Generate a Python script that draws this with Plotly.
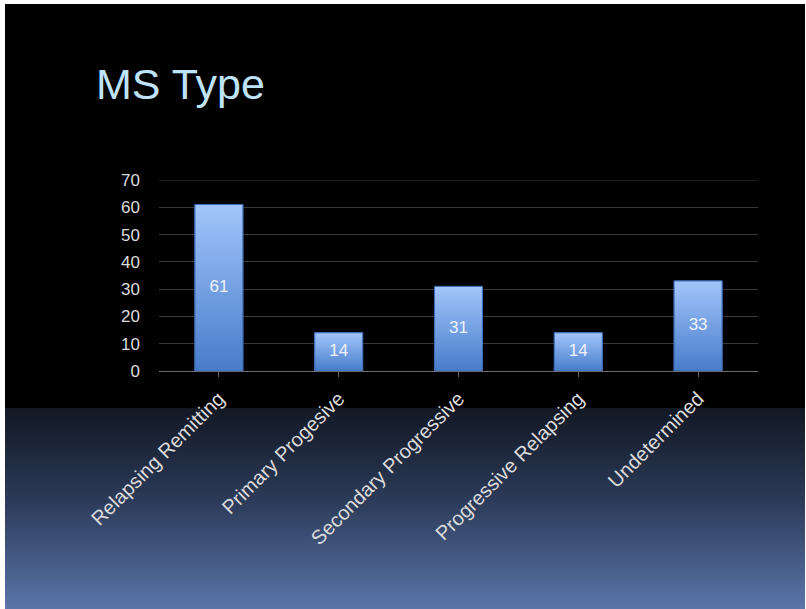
import plotly.graph_objects as go

# Data
categories = ["Relapsing Remitting", "Primary Progesive", "Secondary Progressive",
              "Progressive Relapsing", "Undetermined"]
counts = [61, 14, 31, 14, 33]
y_ticks = [0, 10, 20, 30, 40, 50, 60, 70]

# Canvas and plot-area geometry (pixels)
W, H = 806, 609
ML, MR, MT, MB = 159, 48, 180, 238
PW, PH = W - ML - MR, H - MT - MB
FONT = "Liberation Sans, Arial, Helvetica, sans-serif"
BAR_W = 0.4


def px(x):
    return (x - ML) / PW


def py(y):
    return (H - MB - y) / PH


def mix(c1, c2, t):
    a = [int(c1[i:i + 2], 16) for i in (1, 3, 5)]
    b = [int(c2[i:i + 2], 16) for i in (1, 3, 5)]
    return "rgb({},{},{})".format(*[round(a[k] + (b[k] - a[k]) * t) for k in range(3)])


shapes = [
    # slide background
    dict(type="rect", xref="paper", yref="paper", layer="below",
         x0=px(5), x1=px(805), y0=py(4), y1=py(H + 2),
         fillcolor="black", line=dict(width=0)),
]

# bottom band: dark navy fading to slate blue
stops = [(408, "#121824"), (500, "#2c3b59"), (H, "#5b76aa")]
step = 2
y = 408
while y < H:
    for (ya, ca), (yb, cb) in zip(stops[:-1], stops[1:]):
        if ya <= y < yb:
            col = mix(ca, cb, (y - ya) / (yb - ya))
    shapes.append(dict(type="rect", xref="paper", yref="paper", layer="below",
                       x0=px(5), x1=px(805), y0=py(y), y1=py(y + step + 0.5),
                       fillcolor=col, line=dict(width=0)))
    y += step

# top gridline at the axis maximum
shapes.append(dict(type="line", xref="paper", yref="y", layer="below",
                   x0=0, x1=1, y0=y_ticks[-1], y1=y_ticks[-1],
                   line=dict(color="#3a3a3a", width=1)))

xs = list(range(len(categories)))

fig = go.Figure()

# base bars
fig.add_trace(go.Bar(
    x=xs, y=counts, width=BAR_W,
    marker=dict(color="#6f9fe5", line=dict(color="#3f6db5", width=1)),
    hoverinfo="skip", showlegend=False,
))

# vertical gradient fill on each bar
for i, v in zip(xs, counts):
    fig.add_trace(go.Scatter(
        x=[i - BAR_W / 2, i + BAR_W / 2, i + BAR_W / 2, i - BAR_W / 2, i - BAR_W / 2],
        y=[0, 0, v, v, 0],
        mode="lines", fill="toself",
        fillgradient=dict(type="vertical", start=0, stop=v,
                          colorscale=[[0, "#477cca"], [1, "#a2c5fb"]]),
        line=dict(color="#3f6db5", width=1),
        hoverinfo="skip", showlegend=False,
    ))

# value labels centred in each bar
fig.add_trace(go.Scatter(
    x=xs, y=[v / 2 for v in counts], mode="text",
    text=[str(v) for v in counts],
    textfont=dict(family=FONT, size=17, color="#eef3fb"),
    hoverinfo="skip", showlegend=False,
))

fig.update_layout(
    width=W, height=H,
    margin=dict(l=ML, r=MR, t=MT, b=MB, pad=0),
    paper_bgcolor="white",
    plot_bgcolor="rgba(0,0,0,0)",
    shapes=shapes,
    showlegend=False,
    title=dict(text="MS Type", xref="container", yref="container",
               x=96 / W, xanchor="left", y=1 - 84 / H, yanchor="middle",
               font=dict(family=FONT, size=43, color="#bfe3fa")),
)

fig.update_xaxes(
    range=[-0.5, len(categories) - 0.5],
    tickvals=xs, ticktext=categories, tickangle=-45,
    tickfont=dict(family=FONT, size=20, color="#dcdcdc"),
    ticks="outside", tickson="boundaries", ticklen=5, tickcolor="#6a6a6a",
    showline=True, linecolor="#6a6a6a", linewidth=1,
    showgrid=False, zeroline=False, ticklabelstandoff=2,
)

fig.update_yaxes(
    range=[0, 70], tickvals=y_ticks,
    tickfont=dict(family=FONT, size=17, color="#dcdcdc"),
    showgrid=True, gridcolor="#3a3a3a", gridwidth=1,
    zeroline=False, showline=False, ticks="", ticklabelstandoff=18,
)

fig.write_html("out.html")
